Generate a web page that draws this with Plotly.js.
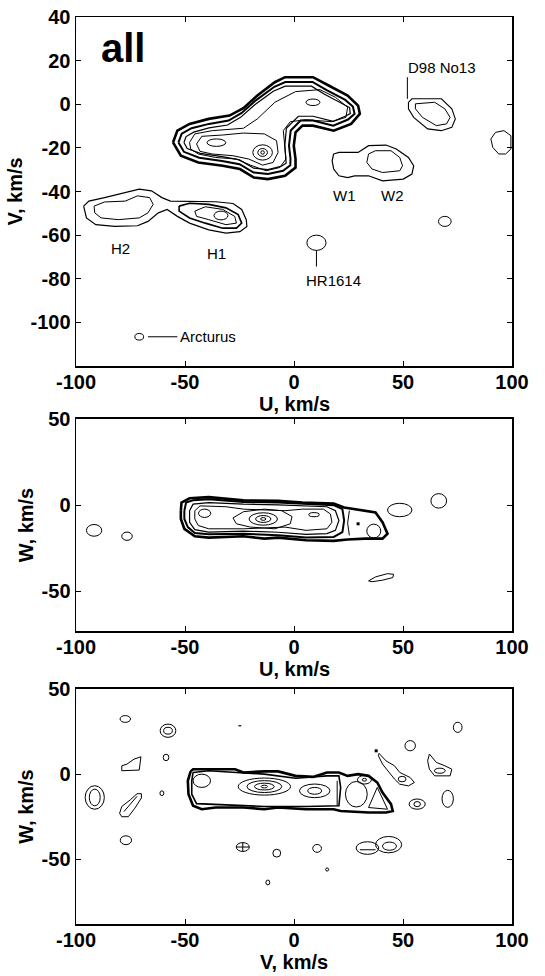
<!DOCTYPE html>
<html><head><meta charset="utf-8">
<script src="https://cdn.plot.ly/plotly-3.0.1.min.js"></script>
<style>html,body{margin:0;padding:0;background:#fff}</style>
</head><body><div id="chart" style="width:545px;height:976px"></div>
<script>
// ---------- tick values / labels ----------
const xTickVals = [-100, -50, 0, 50, 100];
const xTickText = ['-100', '-50', '0', '50', '100'];
const uvYTickVals = [-100, -80, -60, -40, -20, 0, 20, 40];
const uvYTickText = ['-100', '-80', '-60', '-40', '-20', '0', '20', '40'];
const wYTickVals = [-50, 0, 50];
const wYTickText = ['-50', '0', '50'];
const xTitles = ['U, km/s', 'U, km/s', 'V, km/s'];

// ---------- panel 1: U-V plane contours (U, V) ----------
const uvMain1 = [[-55.5,-17.5],[-53.5,-12.1],[-47.9,-9.0],[-39.1,-6.7],[-29.6,-5.2],[-23.2,-1.8],[-16.8,4.0],[-8.8,10.1],[-4.1,12.4],[8.7,12.4],[15.9,8.6],[24.6,4.0],[29.4,-0.6],[30.2,-4.4],[26.2,-9.0],[18.2,-12.1],[8.7,-9.8],[3.9,-9.8],[0.7,-12.9],[-0.1,-19.0],[0.7,-25.1],[0.7,-29.0],[-4.1,-32.8],[-12.0,-34.3],[-18.4,-33.6],[-24.8,-29.7],[-32.7,-28.2],[-43.9,-26.7],[-51.9,-23.6]];
const uvMain2 = [[-53,-17.5],[-51.5,-13.5],[-47,-11],[-39,-9],[-30,-7.5],[-24,-4],[-17.5,1.8],[-9,8],[-4,10.2],[8.5,10.2],[15,6.5],[23.5,2],[27,-1],[27.8,-4.4],[24.8,-7],[18,-9.8],[8.7,-7.5],[3,-7.5],[-1.5,-12],[-2.3,-19],[-1.6,-25],[-1.7,-28],[-5,-30.5],[-12,-32],[-18.5,-31.3],[-25,-27.5],[-33,-26],[-43.5,-24.5],[-50.5,-21.8]];
const uvMain3 = [[-50.5,-17.5],[-49.5,-14.8],[-46,-12.8],[-39,-10.8],[-30.5,-9.5],[-24.5,-6],[-18,-0.2],[-9.5,6],[-4,8.3],[8,8.3],[14,4.6],[22.5,0.3],[25.5,-1.5],[25.8,-4.3],[23.5,-5.5],[18,-7.8],[8.7,-5.5],[2,-5.5],[-3.5,-11],[-4.2,-19],[-3.5,-25],[-3.6,-27],[-6,-28.5],[-12,-30],[-18.5,-29.3],[-25,-25.5],[-33,-24],[-43,-22.5],[-49,-20.3]];
const uvInner1 = [[-47.9,-17.5],[-45.5,-13.6],[-37.5,-12.1],[-23.2,-11.0],[-16.8,-6.7],[-8.8,0.9],[0.7,5.8],[11.9,6.7],[19.0,3.2],[24.6,-1.4],[23.8,-6.0],[17.4,-8.0],[5.5,-7.1],[-1.7,-8.0],[-4.9,-12.1],[-4.4,-19.0],[-3.7,-25.1],[-6.5,-29.0],[-12.8,-30.5],[-20.0,-27.9],[-26.4,-25.1],[-35.9,-24.4],[-43.9,-22.8],[-47.4,-20.5]];
const uvInner2 = [[-44.7,-18.2],[-42.3,-14.7],[-32.7,-14.1],[-23.2,-13.2],[-13.6,-13.6],[-8.0,-16.7],[-7.3,-22.1],[-9.6,-26.7],[-14.4,-27.9],[-20.8,-25.1],[-28.0,-23.6],[-37.5,-22.8],[-43.1,-21.6]];
const uvD98Outer = [[52.5,0.9],[54.1,2.5],[67.6,2.5],[72.4,-2.1],[74.0,-6.7],[72.4,-10.6],[67.6,-12.1],[61.3,-11.3],[54.9,-6.0],[52.5,-2.1]];
const uvD98Inner = [[55.7,0.2],[64.5,0.9],[69.2,-2.1],[71.6,-6.0],[70.0,-9.0],[65.3,-9.8],[58.9,-6.0],[55.7,-2.1]];
const uvEdge = [[99.5,-14.4],[96.3,-12.1],[92.4,-12.9],[90.3,-15.9],[91.2,-19.8],[93.9,-22.8],[97.1,-22.8],[99.5,-20.5]];
const uvWOuter = [[18.2,-22.8],[20.6,-22.1],[29.4,-22.1],[31.8,-20.5],[34.2,-19.0],[42.2,-18.7],[46.9,-20.5],[52.5,-24.4],[54.9,-28.2],[54.1,-32.0],[50.1,-34.3],[40.6,-35.1],[34.2,-32.8],[27.8,-32.8],[24.6,-33.6],[20.6,-32.8],[18.2,-29.7],[17.5,-25.9]];
const uvW2Inner = [[34.2,-22.8],[37.4,-21.3],[44.5,-21.3],[48.5,-24.4],[49.8,-28.2],[48.5,-30.5],[40.6,-31.3],[35.8,-29.7],[33.4,-26.7]];
const uvHOuter = [[-96.5,-46.7],[-94.1,-44.4],[-86.9,-42.8],[-77.4,-40.5],[-71.0,-38.9],[-65.4,-39.7],[-60.6,-42.8],[-56.7,-44.4],[-45.5,-44.4],[-35.9,-44.7],[-28.0,-45.5],[-24.0,-48.2],[-21.9,-52.9],[-21.6,-56.0],[-24.8,-58.4],[-31.2,-59.1],[-39.1,-57.6],[-47.9,-54.5],[-53.5,-51.4],[-58.2,-48.2],[-62.2,-49.8],[-67.0,-53.7],[-71.8,-55.7],[-82.2,-56.0],[-90.9,-55.2],[-95.2,-52.1]];
const uvH2Inner = [[-91.7,-46.7],[-86.9,-44.8],[-77.4,-44.4],[-71.8,-42.0],[-66.2,-42.8],[-64.6,-45.9],[-67.0,-49.8],[-71.0,-52.1],[-80.6,-52.9],[-88.5,-52.1],[-91.4,-49.8]];
const uvH1Inner1 = [[-52.7,-46.7],[-47.9,-45.4],[-39.1,-45.9],[-31.2,-47.5],[-25.6,-50.6],[-24.0,-54.5],[-26.4,-56.8],[-32.7,-56.8],[-40.7,-54.5],[-47.9,-52.1],[-52.7,-49.0]];
const uvH1Inner2 = [[-45.5,-49.0],[-40.7,-47.0],[-32.7,-48.2],[-27.2,-51.4],[-26.4,-54.5],[-31.2,-55.2],[-39.1,-52.9],[-44.7,-51.4]];
// small closed contours (centre U, centre V, half-width, half-height)
const uvBlobU  = [-35.6, -14.4, -14.4, -14.4, 8.7, 10.3, 69.2, -71.0, -33.5];
const uvBlobV  = [-17.6, -22.1, -22.1, -22.1, 0.9, -63.5, -53.7, -106.6, -51.0];
const uvBlobRu = [4.3, 4.5, 2.2, 0.8, 3.2, 4.4, 2.9, 2.0, 3.2];
const uvBlobRv = [1.7, 3.5, 1.8, 0.8, 1.5, 3.5, 2.3, 1.5, 2.0];
// pointer lines
const uvPtrD98 = [[52.0,12.4],[52.0,2.5]];
const uvPtrHR = [[10.3,-67.0],[10.3,-74.4]];
const uvPtrArc = [[-67.0,-106.6],[-53.5,-106.6]];
// labels
const uvLabelText = ['D98 No13', 'W1', 'W2', 'H2', 'H1', 'HR1614'];
const uvLabelU = [68.0, 23.0, 45.3, -79.8, -35.6, 17.9];
const uvLabelV = [17.0, -42.0, -42.0, -66.0, -68.5, -80.9];

// ---------- panel 2: U-W plane contours (U, W) ----------
const uwMain1 = [[-51.9,-3.2],[-51.6,1.5],[-47.9,4.0],[-39.1,4.7],[-23.2,2.8],[-7.3,2.5],[3.9,1.5],[18.2,0.9],[23.0,-1.3],[31.0,-2.8],[37.4,-4.2],[40.6,-9.9],[42.9,-16.5],[40.6,-19.4],[32.6,-19.4],[24.6,-19.9],[18.2,-20.7],[5.5,-20.3],[-7.3,-18.8],[-13.6,-19.4],[-23.2,-18.0],[-39.1,-18.8],[-45.5,-18.0],[-50.3,-13.7],[-51.9,-8.0]];
const uwMain2 = [[-50.3,-3.2],[-49.5,1.5],[-46.3,2.8],[-39.1,3.4],[-23.2,1.9],[-7.3,1.5],[18.2,0.0],[22.2,-2.3],[23.0,-8.9],[22.2,-15.6],[18.2,-18.4],[5.5,-18.8],[-7.3,-17.5],[-23.2,-16.5],[-39.1,-16.9],[-45.5,-16.1],[-48.7,-12.7],[-50.3,-8.0]];
const uwMain3 = [[-47.9,-3.2],[-46.3,0.6],[-39.1,1.5],[-23.2,0.6],[-7.3,0.2],[15.1,-0.9],[19.0,-3.2],[20.6,-8.9],[19.0,-14.6],[15.1,-16.5],[5.5,-16.9],[-7.3,-15.7],[-23.2,-15.0],[-39.1,-15.6],[-45.5,-14.2],[-47.9,-9.9]];
const uwInner1 = [[-45.5,-3.2],[-43.1,-0.4],[-31.2,-0.9],[-23.2,-2.3],[-4.1,-3.2],[3.9,-2.3],[13.5,-2.3],[16.7,-5.1],[17.4,-9.9],[15.1,-13.7],[5.5,-14.6],[-4.1,-12.7],[-23.2,-13.7],[-39.1,-13.7],[-43.9,-11.8],[-45.5,-8.0]];
const uwInner2 = [[-28.0,-7.4],[-23.2,-3.8],[-13.6,-2.3],[-5.7,-3.2],[-0.9,-6.6],[-1.7,-10.8],[-8.8,-13.7],[-20.0,-12.7],[-26.4,-10.8]];
const uwStreak = [[34.2,-43.9],[37.4,-41.6],[42.9,-39.7],[45.7,-40.1],[45.3,-42.0],[40.6,-43.5],[35.8,-44.4]];
const uwDivider = [[25.4,-3.2],[24.6,-10.4],[25.4,-17.5]];
const uwDot = [[29.4,-10.8]];
const uwBlobU  = [-14.1, -14.1, -14.1, -41.0, 9.2, 36.6, 48.5, 66.4, -91.7, -76.6];
const uwBlobW  = [-8.0, -8.0, -8.0, -4.7, -5.5, -15.0, -2.8, 2.5, -14.6, -18.0];
const uwBlobRu = [6.5, 3.5, 1.2, 2.8, 2.4, 3.2, 5.6, 3.6, 3.5, 2.4];
const uwBlobRw = [3.6, 2.0, 0.8, 2.4, 1.2, 4.0, 3.9, 4.2, 3.4, 2.4];

// ---------- panel 3: V-W plane contours (V, W) ----------
const vwMain1 = [[-47.4,1.6],[-46.3,2.9],[-27.0,2.9],[-23.2,1.0],[-13.6,1.6],[-7.3,1.6],[0.7,-1.0],[8.7,-1.6],[15.1,1.0],[20.6,1.0],[24.6,-1.0],[29.4,0.0],[34.2,-1.0],[38.2,-4.9],[40.6,-10.8],[44.5,-17.6],[45.3,-21.6],[42.2,-22.5],[34.2,-22.5],[21.4,-21.6],[18.2,-20.6],[5.5,-20.6],[-7.3,-19.6],[-13.6,-20.6],[-23.2,-19.6],[-35.9,-19.6],[-42.3,-20.6],[-46.3,-18.6],[-48.4,-11.8],[-48.7,-3.9]];
const vwMain2 = [[-46.3,1.0],[-39.1,2.0],[-26.4,1.0],[-13.6,0.0],[0.7,-2.4],[15.1,-1.0],[20.6,-1.0],[21.4,-7.8],[20.6,-18.6],[5.5,-19.0],[-13.6,-19.0],[-35.9,-18.0],[-44.7,-17.3],[-46.9,-11.8],[-46.9,-3.9]];
const vwQuad = [[-79.0,4.9],[-79.0,2.0],[-71.0,2.4],[-70.2,10.2],[-73.4,8.8],[-76.6,5.9]];
const vwTilt = [[-80,-23],[-79,-25],[-76,-25],[-73,-20],[-70,-14],[-70,-11.5],[-72,-11.5],[-75,-15],[-79,-19]];
const vwTiltInner = [[-78,-22],[-75.5,-18],[-72,-13]];
const vwArm = [[39.0,12.2],[42.2,7.8],[46.1,4.9],[48.5,1.0],[53.3,-2.0],[55.2,-4.9],[52.5,-6.9],[48.5,-5.9],[46.1,-2.9],[43.7,1.0],[40.6,5.9],[38.7,10.8]];
const vwRight = [[62.1,11.8],[65.3,6.9],[69.2,4.9],[72.4,2.9],[71.6,-1.0],[64.5,-1.0],[62.1,2.9],[61.3,7.8]];
const vwTri = [[34.2,-19.6],[38.2,-7.8],[42.9,-20.6]];
const vwDivider = [[19.8,-3.9],[19.8,-18.6]];
const vwCrossH = [[-26.5,-42.8],[-20.5,-42.8]];
const vwCrossV = [[-23.5,-45.4],[-23.5,-40.2]];
const vwPairLine = [[30.2,-44.4],[37.4,-44.4]];
const vwSpeck = [[-25.5,28.4],[-24.2,28.4]];
const vwDot = [[37.7,13.7]];
const vwBlobV  = [-42.3, -13.6, -13.6, -13.6, -13.6, 9.5, 9.5, 28.6, 32.3, 32.3, -77.4, -57.8, -57.8, -58.7, -60.6, -91.4, -91.4, 53.3, 49.6, 66.9, 75.1, 70.5, 56.5, 56.5, -77.1, -23.5, -7.9, 10.6, 15.2, -12.0, 33.7, 43.4, 43.8];
const vwBlobW  = [-3.9, -7.3, -7.3, -7.3, -7.3, -9.8, -9.8, -11.8, -3.3, -3.3, 32.4, 25.5, 25.5, 9.8, -11.2, -13.7, -13.7, 16.7, -2.9, 2.0, 27.5, -14.5, -17.6, -17.6, -38.8, -42.8, -46.4, -43.6, -56.0, -63.6, -43.4, -41.4, -42.3];
const vwBlobRv = [4.0, 12.0, 8.0, 4.5, 1.5, 7.0, 3.2, 5.0, 3.2, 1.0, 2.4, 3.6, 2.0, 1.3, 0.9, 4.4, 2.5, 2.4, 1.8, 2.5, 2.0, 2.6, 3.7, 1.5, 2.6, 3.0, 1.8, 2.0, 0.7, 0.9, 5.2, 6.0, 3.2];
const vwBlobRw = [3.9, 5.0, 3.5, 2.0, 0.8, 4.0, 2.0, 7.5, 2.5, 0.8, 2.0, 3.9, 2.0, 1.9, 1.4, 6.9, 4.9, 3.0, 1.6, 1.5, 3.0, 5.0, 3.0, 1.5, 2.6, 2.6, 2.3, 2.3, 0.9, 1.4, 3.7, 4.8, 2.4];

// ---------- build ----------
const FONT = 'Liberation Sans, Arial, Helvetica, sans-serif';
const traces = [];
function loop(pts) { return pts.concat([pts[0]]); }
function addLine(pts, xa, ya, w, closed) {
  const p = closed ? loop(pts) : pts;
  traces.push({type: 'scatter', mode: 'lines', x: p.map(q => q[0]), y: p.map(q => q[1]),
    xaxis: xa, yaxis: ya, line: {color: '#000', width: w}, hoverinfo: 'skip', showlegend: false});
}
function addDots(pts, xa, ya) {
  traces.push({type: 'scatter', mode: 'markers', x: pts.map(q => q[0]), y: pts.map(q => q[1]),
    xaxis: xa, yaxis: ya, marker: {color: '#000', size: 3, symbol: 'square'}, hoverinfo: 'skip', showlegend: false});
}
// panel 1
addLine(uvMain1, 'x', 'y', 2.6, true);
addLine(uvMain2, 'x', 'y', 2.0, true);
addLine(uvMain3, 'x', 'y', 1.2, true);
addLine(uvInner1, 'x', 'y', 1.0, true);
addLine(uvInner2, 'x', 'y', 1.0, true);
addLine(uvD98Outer, 'x', 'y', 1.1, true);
addLine(uvD98Inner, 'x', 'y', 1.0, true);
addLine(uvEdge, 'x', 'y', 1.0, true);
addLine(uvWOuter, 'x', 'y', 1.2, true);
addLine(uvW2Inner, 'x', 'y', 1.0, true);
addLine(uvHOuter, 'x', 'y', 1.2, true);
addLine(uvH2Inner, 'x', 'y', 1.0, true);
addLine(uvH1Inner1, 'x', 'y', 1.6, true);
addLine(uvH1Inner2, 'x', 'y', 1.0, true);
addLine(uvPtrD98, 'x', 'y', 1.0, false);
addLine(uvPtrHR, 'x', 'y', 1.0, false);
addLine(uvPtrArc, 'x', 'y', 1.0, false);
// panel 2
addLine(uwMain1, 'x2', 'y2', 2.6, true);
addLine(uwMain2, 'x2', 'y2', 2.0, true);
addLine(uwMain3, 'x2', 'y2', 1.2, true);
addLine(uwInner1, 'x2', 'y2', 1.0, true);
addLine(uwInner2, 'x2', 'y2', 1.0, true);
addLine(uwStreak, 'x2', 'y2', 1.0, true);
addLine(uwDivider, 'x2', 'y2', 1.0, false);
addDots(uwDot, 'x2', 'y2');
// panel 3
addLine(vwMain1, 'x3', 'y3', 2.6, true);
addLine(vwMain2, 'x3', 'y3', 1.6, true);
addLine(vwQuad, 'x3', 'y3', 1.0, true);
addLine(vwTilt, 'x3', 'y3', 1.0, true);
addLine(vwTiltInner, 'x3', 'y3', 1.0, false);
addLine(vwArm, 'x3', 'y3', 1.0, true);
addLine(vwRight, 'x3', 'y3', 1.0, true);
addLine(vwTri, 'x3', 'y3', 1.0, true);
addLine(vwDivider, 'x3', 'y3', 1.0, false);
addLine(vwCrossH, 'x3', 'y3', 1.0, false);
addLine(vwCrossV, 'x3', 'y3', 1.0, false);
addLine(vwPairLine, 'x3', 'y3', 1.0, false);
addLine(vwSpeck, 'x3', 'y3', 1.2, false);
addDots(vwDot, 'x3', 'y3');

const shapes = [];
function addBlobs(cx, cy, rx, ry, xr, yr) {
  for (let i = 0; i < cx.length; i++) {
    shapes.push({type: 'circle', xref: xr, yref: yr, x0: cx[i] - rx[i], x1: cx[i] + rx[i],
      y0: cy[i] - ry[i], y1: cy[i] + ry[i], line: {color: '#000', width: 1}, layer: 'above'});
  }
}
addBlobs(uvBlobU, uvBlobV, uvBlobRu, uvBlobRv, 'x', 'y');
addBlobs(uwBlobU, uwBlobW, uwBlobRu, uwBlobRw, 'x2', 'y2');
addBlobs(vwBlobV, vwBlobW, vwBlobRv, vwBlobRw, 'x3', 'y3');

const annotations = [];
for (let i = 0; i < uvLabelText.length; i++) {
  annotations.push({xref: 'x', yref: 'y', x: uvLabelU[i], y: uvLabelV[i], text: uvLabelText[i],
    showarrow: false, font: {family: FONT, size: 15, color: '#000'}});
}
annotations.push({xref: 'x', yref: 'y', x: -53.0, y: -106.6, text: 'Arcturus', xanchor: 'left',
  showarrow: false, font: {family: FONT, size: 15, color: '#000'}});
annotations.push({xref: 'x', yref: 'y', x: -78.4, y: 26.0, text: 'all',
  showarrow: false, font: {family: FONT, size: 40, color: '#000', weight: 'bold'}});

const tickFont = {family: FONT, size: 20, color: '#000', weight: 'bold'};
const titleFont = {family: FONT, size: 20, color: '#000', weight: 'bold'};
// x-axis titles placed just beneath each panel's tick labels
const xTitleY = [0.5733, 0.2811, -0.0419];
for (let i = 0; i < xTitles.length; i++) {
  annotations.push({xref: 'paper', yref: 'paper', x: 0.5, y: xTitleY[i], yanchor: 'middle',
    text: xTitles[i], showarrow: false, font: titleFont});
}
function xAxis(anchor) {
  return {anchor: anchor, domain: [0, 1], range: [-100, 100], tickvals: xTickVals, ticktext: xTickText,
    ticks: 'inside', ticklen: 5, tickcolor: '#000', showline: true, linecolor: '#000', linewidth: 1.5,
    mirror: 'ticks', showgrid: false, zeroline: false, tickfont: tickFont, automargin: false,
    ticklabelstandoff: -3};
}
function yAxis(anchor, domain, range, tv, tt, title) {
  return {anchor: anchor, domain: domain, range: range, tickvals: tv, ticktext: tt,
    ticks: 'inside', ticklen: 5, tickcolor: '#000', showline: true, linecolor: '#000', linewidth: 1.5,
    mirror: 'ticks', showgrid: false, zeroline: false, tickfont: tickFont, automargin: false,
    title: {text: title, font: titleFont, standoff: 2}};
}

const layout = {
  width: 545, height: 976,
  margin: {l: 76, r: 33, t: 17, b: 52},
  paper_bgcolor: '#fff', plot_bgcolor: '#fff',
  showlegend: false, hovermode: false,
  xaxis: xAxis('y'),
  yaxis: yAxis('x', [0.6152, 1], [-120, 40], uvYTickVals, uvYTickText, 'V, km/s'),
  xaxis2: xAxis('y2'),
  yaxis2: yAxis('x2', [0.3230, 0.5568], [-73, 50], wYTickVals, wYTickText, 'W, km/s'),
  xaxis3: xAxis('y3'),
  yaxis3: yAxis('x3', [0, 0.2591], [-88, 50], wYTickVals, wYTickText, 'W, km/s'),
  shapes: shapes,
  annotations: annotations
};
Plotly.newPlot('chart', traces, layout, {staticPlot: true, displayModeBar: false});
</script>
</body></html>
